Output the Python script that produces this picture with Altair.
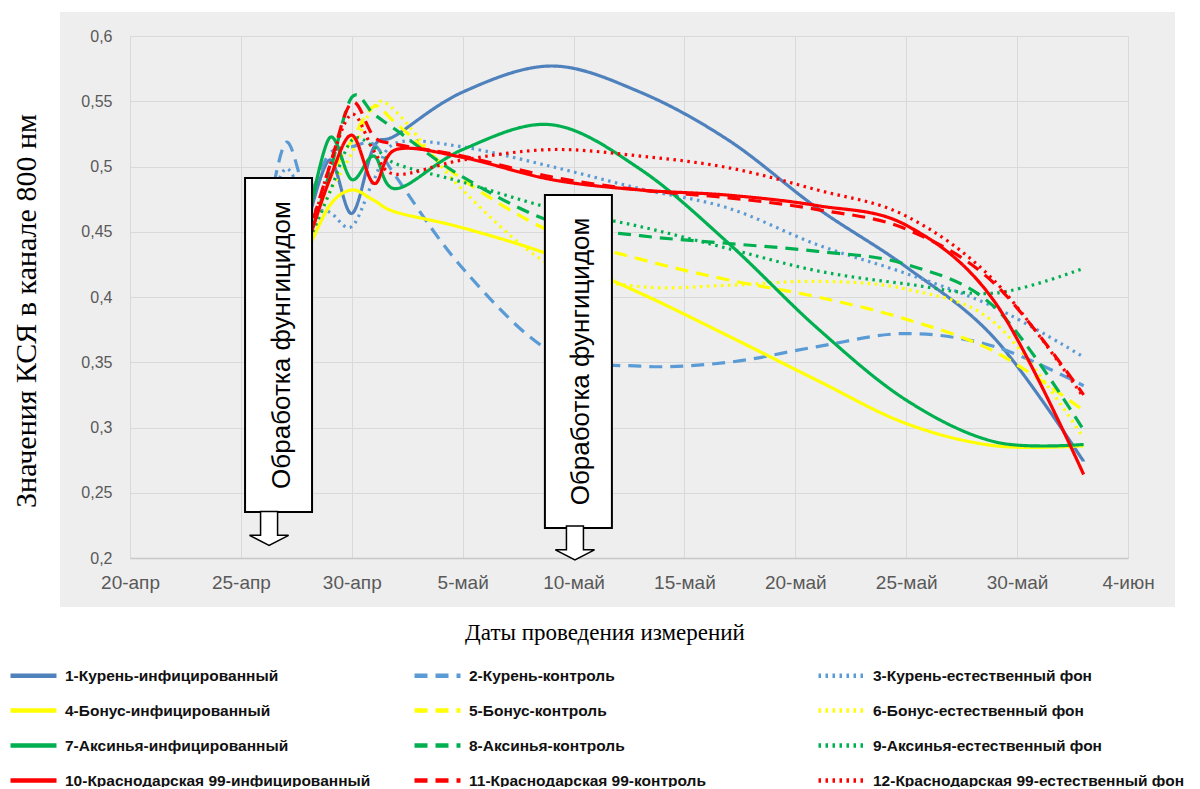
import altair as alt
import pandas as pd

# ---------------- data ----------------
DATES = ["2023-04-26", "2023-04-27", "2023-04-28", "2023-04-29", "2023-04-30",
         "2023-05-01", "2023-05-02", "2023-05-05", "2023-05-09", "2023-05-13",
         "2023-05-17", "2023-05-21", "2023-05-25", "2023-05-29", "2023-06-02"]

SERIES = ["1-Курень-инфицированный", "2-Курень-контроль", "3-Курень-естественный фон",
          "4-Бонус-инфицированный", "5-Бонус-контроль", "6-Бонус-естественный фон",
          "7-Аксинья-инфицированный", "8-Аксинья-контроль", "9-Аксинья-естественный фон",
          "10-Краснодарская 99-инфицированный", "11-Краснодарская 99-контроль",
          "12-Краснодарская 99-естественный фон"]

s1 = [None, None, 0.455, 0.505, 0.464, 0.515, 0.524, 0.557, 0.577, 0.557, 0.520, 0.468, 0.423, 0.368, 0.274]
s2 = [0.440, 0.518, 0.480, 0.510, 0.515, 0.517, 0.492, 0.422, 0.358, 0.347, 0.350, 0.362, 0.372, 0.362, 0.332]
s3 = [0.450, 0.498, 0.470, 0.465, 0.454, 0.490, 0.518, 0.515, 0.500, 0.483, 0.468, 0.440, 0.418, 0.392, 0.354]
s4 = [None, None, 0.435, 0.470, 0.482, 0.474, 0.465, 0.453, 0.432, 0.403, 0.370, 0.336, 0.303, 0.286, 0.286]
s5 = [None, None, 0.440, 0.490, 0.520, 0.546, 0.533, 0.490, 0.450, 0.429, 0.413, 0.400, 0.383, 0.358, 0.313]
s6 = [None, None, 0.440, 0.480, 0.510, 0.546, 0.542, 0.482, 0.424, 0.408, 0.409, 0.412, 0.406, 0.380, 0.292]
s7 = [None, None, 0.455, 0.522, 0.490, 0.508, 0.483, 0.513, 0.532, 0.498, 0.441, 0.376, 0.321, 0.289, 0.287]
s8 = [None, None, 0.440, 0.495, 0.553, 0.540, 0.528, 0.492, 0.458, 0.447, 0.441, 0.435, 0.425, 0.392, 0.298]
s9 = [None, None, 0.440, 0.480, 0.520, 0.515, 0.502, 0.488, 0.468, 0.454, 0.437, 0.420, 0.410, 0.403, 0.422]
s10 = [None, None, 0.440, 0.490, 0.524, 0.487, 0.513, 0.507, 0.490, 0.482, 0.478, 0.470, 0.455, 0.396, 0.264]
s11 = [None, None, 0.445, 0.500, 0.549, 0.523, 0.517, 0.508, 0.492, 0.482, 0.476, 0.467, 0.452, 0.410, 0.325]
s12 = [None, None, 0.440, 0.500, 0.540, 0.512, 0.494, 0.505, 0.513, 0.508, 0.499, 0.482, 0.462, 0.412, 0.323]
VALUES = [s1, s2, s3, s4, s5, s6, s7, s8, s9, s10, s11, s12]

Y_TICKS = [0.2, 0.25, 0.3, 0.35, 0.4, 0.45, 0.5, 0.55, 0.6]
MONTHS_RU = ["янв", "фев", "мар", "апр", "май", "июн", "июл", "авг", "сен", "окт", "ноя", "дек"]
X_TICKS = [(4, 20), (4, 25), (4, 30), (5, 5), (5, 10), (5, 15), (5, 20), (5, 25), (5, 30), (6, 4)]

# annotation boxes (treatment dates) in data units
BOX_LABEL = ["Обработка фунгицидом", "Обработка фунгицидом"]
BOX_START = ["2023-04-25T04:30:00Z", "2023-05-08T17:00:00Z"]
BOX_END = ["2023-04-28T05:00:00Z", "2023-05-11T17:30:00Z"]
BOX_CENTER = ["2023-04-26T20:00:00Z", "2023-05-10T08:30:00Z"]
BOX_TOP = [0.4912, 0.4782]
BOX_BOTTOM = [0.2353, 0.2230]
BOX_MID = [0.3632, 0.3506]
ARROW_X = ["2023-04-26T06:30:00Z", "2023-05-10T01:30:00Z"]
ARROW_Y = [0.2226, 0.2115]

COLORS = ["#4F81BD", "#5B9BD5", "#5B9BD5",
          "#FFFF00", "#FFFF00", "#FFFF00",
          "#00B050", "#00B050", "#00B050",
          "#FF0000", "#FF0000", "#FF0000"]
DASHES = [[1, 0], [13, 8], [2.5, 4.5]] * 4

rows = []
for name, vals in zip(SERIES, VALUES):
    for d, v in zip(DATES, vals):
        if v is not None:
            rows.append({"date": d, "value": v, "series": name})
df = pd.DataFrame(rows)

boxes = pd.DataFrame({"start": BOX_START, "end": BOX_END, "center": BOX_CENTER,
                      "top": BOX_TOP, "bottom": BOX_BOTTOM, "mid": BOX_MID,
                      "label": BOX_LABEL, "ax": ARROW_X, "ay": ARROW_Y})

# ---------------- scales / axes ----------------
def dt(m, d):
    return alt.DateTime(year=2023, month=m, date=d, utc=True)

month_arr = "[" + ",".join("'%s'" % m for m in MONTHS_RU) + "]"
x_scale = alt.Scale(type="utc", domain=[dt(4, 20), dt(6, 4)])
y_scale = alt.Scale(domain=[0.2, 0.6], nice=False, zero=False)

x_axis = alt.Axis(values=[dt(m, d) for m, d in X_TICKS],
                  labelExpr="utcdate(datum.value) + '-' + " + month_arr + "[utcmonth(datum.value)]",
                  title=None, grid=True, gridColor="#D9D9D9", gridWidth=1,
                  domainColor="#C8C8C8", domainWidth=1.5, ticks=False,
                  labelFlush=False, labelOverlap=False,
                  labelFont="Liberation Sans", labelFontSize=19,
                  labelColor="#595959", labelPadding=15)
y_axis = alt.Axis(values=Y_TICKS,
                  labelExpr="replace(format(datum.value, '.2~f'), '.', ',')",
                  title=None, grid=True, gridColor="#D9D9D9", gridWidth=1,
                  domain=False, ticks=False,
                  labelFont="Liberation Sans", labelFontSize=16,
                  labelColor="#595959", labelPadding=18)

legend = alt.Legend(title=None, orient="none", legendX=-122, legendY=614,
                    direction="horizontal", columns=3, gridAlign="all",
                    symbolType="stroke", symbolSize=2116, symbolStrokeWidth=4.5,
                    labelFont="Liberation Sans", labelFontSize=15.5,
                    labelFontWeight="bold", labelColor="#111111",
                    labelLimit=420, labelOffset=6, rowPadding=0, columnPadding=28)

lines = alt.Chart(df).mark_line(interpolate="cardinal", strokeWidth=3.2).encode(
    x=alt.X("date:T", scale=x_scale, axis=x_axis),
    y=alt.Y("value:Q", scale=y_scale, axis=y_axis),
    color=alt.Color("series:N", scale=alt.Scale(domain=SERIES, range=COLORS), legend=legend),
    strokeDash=alt.StrokeDash("series:N", scale=alt.Scale(domain=SERIES, range=DASHES), legend=legend),
)

box_rects = alt.Chart(boxes).mark_rect(fill="white", stroke="black", strokeWidth=2).encode(
    x="start:T", x2="end:T", y="top:Q", y2="bottom:Q")

box_text = alt.Chart(boxes).mark_text(angle=270, font="Liberation Sans", fontSize=26,
                                      align="center", baseline="middle", color="black").encode(
    x="center:T", y="mid:Q", text="label:N")

ARROW_PATH = "M-0.5,-1 L0.5,-1 L0.5,0.4 L1.15,0.4 L0,1 L-1.15,0.4 L-0.5,0.4 Z"
arrows = alt.Chart(boxes).mark_point(shape=ARROW_PATH, size=1156, filled=True, fill="white",
                                     stroke="black", strokeWidth=1.5, opacity=1).encode(
    x="ax:T", y="ay:Q")

one = pd.DataFrame({"k": [0]})


def white(x0, x1, y0, y1):
    return alt.Chart(one).mark_rect(color="white").encode(
        x=alt.value(x0), x2=alt.value(x1), y=alt.value(y0), y2=alt.value(y1))


mask = [white(-130, -70, -40, 760), white(1045, 1080, -40, 760),
        white(-130, 1080, -40, -24), white(-130, 1080, 571, 760)]

x_title = alt.Chart(one).mark_text(text="Даты проведения измерений", font="Liberation Serif",
                                   fontSize=23, align="center", baseline="middle", color="black").encode(
    x=alt.value(475), y=alt.value(597))
y_title = alt.Chart(one).mark_text(text="Значения КСЯ в канале 800 нм", font="Liberation Serif",
                                   fontSize=30, angle=270, align="center", baseline="middle",
                                   color="black").encode(
    x=alt.value(-103), y=alt.value(275))

chart = alt.layer(lines, box_rects, box_text, arrows, *mask, x_title, y_title).properties(
    width=998, height=522, background="#EEEEEE",
    padding={"left": 122, "top": 28, "right": 62, "bottom": 229},
    autosize=alt.AutoSizeParams(type="none"),
).configure_view(strokeWidth=0)

chart.save("out.html", embed_options={"renderer": "svg", "actions": False})
